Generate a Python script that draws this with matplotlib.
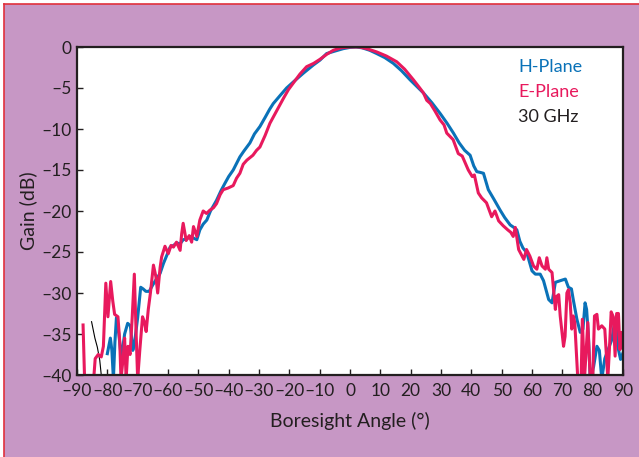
import matplotlib.pyplot as plt
from matplotlib.patches import Rectangle
from matplotlib.lines import Line2D
from matplotlib.ticker import FuncFormatter

plt.rcParams['font.family'] = ['Lato', 'DejaVu Sans']

# H-plane pattern (angle in deg, gain in dB)
h_angle = [-80.0, -79.0, -78.5, -78.0, -77.5, -77.0, -76.2, -75.4, -74.3, -73.3,
           -72.4, -71.6, -71.0, -70.0, -69.0, -68.2, -67.3, -66.2, -65.0, -64.0,
           -62.6, -61.5, -60.5, -59.3, -58.2, -57.1, -56.0, -55.0, -53.8, -52.7,
           -51.6, -50.5, -49.5, -48.4, -47.2, -46.0, -44.0, -42.5, -41.2, -40.0,
           -38.5, -37.4, -36.3, -35.0, -33.0, -31.5, -29.7, -28.0, -26.5, -25.3,
           -23.0, -20.9, -18.5, -15.4, -12.1, -9.9, -7.7, -5.0, -2.2, 0.0,
           2.0, 4.0, 6.5, 8.8, 11.5, 14.3, 17.0, 19.8, 22.0, 24.2,
           27.0, 29.7, 32.0, 34.1, 36.0, 37.8, 39.6, 40.8, 41.8, 43.0,
           44.0, 45.6, 47.5, 49.5, 51.0, 52.8, 54.0, 55.0, 56.0, 57.0,
           58.3, 60.0, 61.1, 62.7, 63.8, 65.5, 66.6, 67.7, 69.3, 71.0,
           72.0, 73.0, 73.6, 74.8, 75.9, 76.8, 77.5, 78.0, 78.6, 79.2,
           80.3, 81.4, 82.2, 83.0, 84.0, 85.1, 86.3, 87.4, 88.0, 88.5,
           89.2, 90.0]
h_gain = [-37.4, -35.5, -37.0, -40.5, -36.0, -33.0, -35.0, -38.0, -35.0, -33.7,
          -34.0, -37.0, -36.0, -33.0, -29.3, -29.5, -29.8, -29.8, -29.0, -28.4,
          -27.6, -26.4, -25.5, -24.4, -24.2, -23.9, -24.0, -23.5, -23.4, -23.1,
          -23.3, -23.5, -22.3, -21.6, -21.1, -20.0, -18.7, -17.5, -16.6, -15.8,
          -15.0, -14.2, -13.4, -12.7, -11.7, -10.6, -9.7, -8.6, -7.6, -6.9,
          -5.9, -5.0, -4.2, -3.2, -2.2, -1.6, -0.8, -0.5, -0.2, -0.05,
          0.0, -0.1, -0.4, -0.8, -1.3, -2.0, -2.9, -4.0, -4.8, -5.6,
          -6.8, -8.1, -9.3, -10.5, -11.7, -12.6, -13.2, -14.5, -15.2, -15.3,
          -15.4, -17.4, -18.6, -19.9, -20.8, -21.7, -22.0, -22.3, -23.7, -24.5,
          -25.1, -27.3, -27.7, -27.7, -28.5, -30.8, -31.2, -28.7, -28.5, -28.3,
          -29.3, -29.5, -30.8, -33.2, -34.8, -34.4, -31.2, -32.0, -35.2, -40.5,
          -39.0, -36.5, -37.0, -40.5, -38.0, -36.9, -35.7, -33.2, -32.8, -36.9,
          -38.1, -37.3]

# E-plane pattern
e_angle = [-88.0, -87.5, -84.5, -84.0, -83.0, -82.0, -81.3, -80.5, -79.8, -78.9,
           -78.2, -77.6, -76.5, -75.9, -75.5, -74.8, -74.3, -73.8, -73.2, -72.5,
           -71.8, -71.1, -70.5, -70.0, -69.3, -68.4, -67.8, -67.2, -66.5, -65.8,
           -64.8, -64.0, -63.4, -62.6, -62.1, -61.0, -59.9, -59.0, -58.2, -57.2,
           -56.0, -55.5, -55.0, -54.0, -53.0, -52.2, -51.6, -50.5, -49.5, -48.4,
           -47.3, -46.2, -45.0, -44.0, -42.8, -41.8, -40.2, -38.5, -37.4, -36.3,
           -35.2, -34.0, -32.0, -30.8, -29.7, -28.0, -26.4, -24.2, -22.0, -20.3,
           -18.7, -16.5, -14.3, -12.0, -9.9, -7.7, -5.5, -3.0, 0.0, 3.0,
           5.5, 8.8, 12.0, 15.4, 18.0, 20.9, 23.0, 24.2, 25.3, 26.5,
           28.0, 29.7, 31.0, 31.9, 34.0, 35.7, 37.0, 39.0, 40.3, 41.0,
           42.3, 43.4, 45.0, 46.7, 47.8, 49.0, 50.5, 52.0, 53.0, 53.8,
           54.5, 55.6, 57.3, 58.2, 59.3, 60.5, 61.6, 62.4, 63.3, 64.4,
           64.9, 65.5, 66.6, 67.7, 68.2, 68.8, 69.3, 70.4, 70.9, 71.5,
           72.0, 72.6, 73.1, 73.6, 74.1, 75.1, 76.2, 76.6, 77.3, 78.4,
           79.2, 80.0, 80.6, 81.4, 81.9, 83.0, 84.0, 85.0, 85.5, 86.1,
           86.8, 87.4, 87.9, 88.5, 89.0, 89.6, 90.0]
e_gain = [-33.9, -40.5, -40.5, -38.0, -37.5, -37.8, -36.5, -28.8, -32.9, -28.6,
          -31.0, -32.6, -32.9, -36.0, -40.5, -38.0, -35.5, -40.5, -36.5, -37.5,
          -33.0, -27.7, -35.0, -40.5, -37.0, -32.9, -33.5, -34.7, -32.0, -30.0,
          -26.6, -28.0, -30.0, -26.9, -25.6, -24.3, -25.2, -24.2, -24.4, -23.8,
          -24.8, -22.8, -21.5, -23.6, -23.0, -23.8, -21.9, -23.1, -21.1, -20.0,
          -20.3, -19.9, -19.6, -19.1, -18.0, -17.4, -17.2, -16.9, -16.0, -15.4,
          -14.3, -13.8, -13.2, -12.6, -12.2, -10.8, -9.3, -7.8, -6.3, -5.2,
          -4.4, -3.3, -2.4, -2.0, -1.5, -0.9, -0.4, -0.1, 0.0, 0.0,
          -0.2, -0.6, -1.1, -1.8, -2.7, -4.0, -5.0, -5.6, -6.5, -6.9,
          -7.8, -8.9, -9.5, -10.5, -11.3, -13.0, -13.3, -15.0, -15.8, -15.6,
          -17.8, -18.4, -19.0, -20.7, -20.0, -21.2, -21.8, -22.3, -22.6, -23.1,
          -22.0, -24.7, -25.9, -24.7, -25.5, -26.7, -27.1, -25.7, -26.7, -27.1,
          -25.7, -27.1, -27.5, -32.0, -30.4, -30.2, -32.8, -36.5, -35.3, -30.0,
          -29.6, -31.2, -34.4, -32.8, -33.6, -40.5, -40.5, -33.2, -40.5, -33.6,
          -40.5, -40.5, -32.8, -32.6, -34.4, -34.0, -34.4, -40.5, -37.0, -32.3,
          -32.9, -37.7, -32.5, -32.5, -36.9, -34.8, -35.5]

# short thin black trace at far left
k_angle = [-85.2, -84.1, -83.3, -82.5, -82.0]
k_gain = [-33.5, -35.5, -36.6, -38.2, -40.0]

x_ticks = list(range(-90, 91, 10))
y_ticks = list(range(-40, 1, 5))

mauve = '#c797c5'
blue = '#0a72b8'
pink = '#e8195d'
dark = '#231f20'

fig = plt.figure(figsize=(6.39, 4.57), dpi=100)
fig.patch.set_facecolor('white')
fig.add_artist(Rectangle((4 / 639, 0), 1, 1 - 4 / 457, transform=fig.transFigure,
                         facecolor=mauve, edgecolor='none', zorder=-10))
fig.add_artist(Line2D([4 / 639, 1], [1 - 4 / 457, 1 - 4 / 457],
                      transform=fig.transFigure, color='#e0303c', lw=1.2))
fig.add_artist(Line2D([4 / 639, 4 / 639], [0, 1 - 4 / 457],
                      transform=fig.transFigure, color='#e0303c', lw=1.2))

ax = fig.add_axes([77 / 639, 82 / 457, 546 / 639, 328 / 457])
ax.set_facecolor('white')

ax.plot(k_angle, k_gain, color='black', lw=0.8)
ax.plot(h_angle, h_gain, color=blue, lw=2.2)
ax.plot(e_angle, e_gain, color=pink, lw=2.2)

ax.set_xlim(-90, 90)
ax.set_ylim(-40, 0)
ax.set_xticks(x_ticks)
ax.set_yticks(y_ticks)
dash = FuncFormatter(lambda v, p: ('%d' % v).replace('-', '\u2013'))
ax.xaxis.set_major_formatter(dash)
ax.yaxis.set_major_formatter(dash)
ax.tick_params(direction='in', length=4, width=1, color=dark,
               labelsize=12.5, labelcolor=dark, pad=4)
ax.tick_params(axis='x', pad=6)
for s in ax.spines.values():
    s.set_color(dark)
    s.set_linewidth(1.6)

ax.set_xlabel('Boresight Angle (\u00b0)', fontsize=14, color=dark, labelpad=9)
ax.set_ylabel('Gain (dB)', fontsize=14, color=dark, labelpad=3)

ax.text(0.808, 0.938, 'H-Plane', color=blue, fontsize=13,
        transform=ax.transAxes, va='center')
ax.text(0.808, 0.862, 'E-Plane', color=pink, fontsize=13,
        transform=ax.transAxes, va='center')
ax.text(0.808, 0.786, '30 GHz', color=dark, fontsize=13,
        transform=ax.transAxes, va='center')

plt.savefig('out.png', dpi=100, facecolor=fig.get_facecolor())
